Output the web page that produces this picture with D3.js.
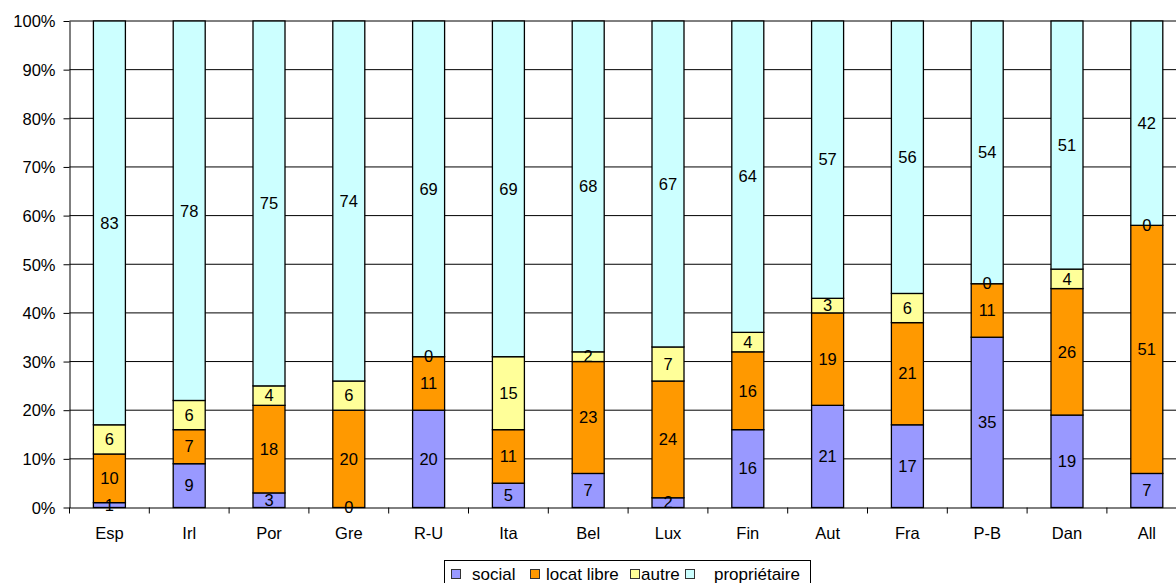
<!DOCTYPE html>
<html><head><meta charset="utf-8">
<script src="https://cdn.jsdelivr.net/npm/d3@7"></script>
<style>body{margin:0;background:#fff;} svg{display:block;font-family:"Liberation Sans",Arial,sans-serif;}</style>
</head><body>
<svg id="c" width="1176" height="583"></svg>
<script>
const categories = ["Esp","Irl","Por","Gre","R-U","Ita","Bel","Lux","Fin","Aut","Fra","P-B","Dan","All"];
const seriesNames = ["social","locat libre","autre","propriétaire"];
const social = [1,9,3,0,20,5,7,2,16,21,17,35,19,7];
const locatLibre = [10,7,18,20,11,11,23,24,16,19,21,11,26,51];
const autre = [6,6,4,6,0,15,2,7,4,3,6,0,4,0];
const proprietaire = [83,78,75,74,69,69,68,67,64,57,56,54,51,42];
const yTicks = [0,10,20,30,40,50,60,70,80,90,100];
const colors = ["#9999FF","#FF9900","#FFFF99","#CCFFFF"];

(function(){
const seriesValues = [social, locatLibre, autre, proprietaire];
const rows = categories.map((c,i)=>{const r={cat:c}; seriesNames.forEach((s,k)=>r[s]=seriesValues[k][i]); return r;});
const stack = d3.stack().keys(seriesNames).offset(d3.stackOffsetExpand)(rows);

const svg = d3.select("#c");
const pLeft = 69.5, pTop = 21, pBottom = 507.5, band = 79.8;
const fs = "16.5px";
const x = d3.scaleBand().domain(categories).range([pLeft, pLeft + band*categories.length]).paddingInner(0).paddingOuter(0);
const y = d3.scaleLinear().domain([0,1]).range([pBottom, pTop]);
const bw = 32;

svg.append("g").selectAll("line").data(yTicks.filter(t=>t>0)).join("line")
  .attr("x1", pLeft).attr("x2", 1176)
  .attr("y1", d=>y(d/100)).attr("y2", d=>y(d/100))
  .attr("stroke","#000").attr("stroke-width",1);

const g = svg.append("g");
stack.forEach((s,k)=>{
  g.append("g").selectAll("rect").data(s).join("rect")
    .attr("x", d=>x(d.data.cat)+band/2-bw/2)
    .attr("width", bw)
    .attr("y", d=>y(d[1]))
    .attr("height", d=>y(d[0])-y(d[1]))
    .attr("fill", colors[k]).attr("stroke","#000").attr("stroke-width",1.3);
});

const yAxis = d3.axisLeft(y).tickValues(yTicks.map(t=>t/100)).tickFormat(d=>Math.round(d*100)+"%").tickSize(6).tickSizeOuter(0);
const ya = svg.append("g").attr("transform",`translate(${pLeft},0)`).call(yAxis);
ya.select(".domain").attr("stroke","#000");
ya.selectAll("text").attr("font-size",fs).attr("fill","#000").attr("x",-14).attr("dy","0.35em");
ya.selectAll(".tick line").attr("stroke","#000");

const xAxis = d3.axisBottom(x).tickSize(0).tickSizeOuter(0);
const xa = svg.append("g").attr("transform",`translate(0,${pBottom})`).call(xAxis);
xa.select(".domain").attr("stroke","#000");
xa.selectAll("text").attr("font-size",fs).attr("fill","#000").attr("y",25.5).attr("dy","0.35em");
svg.append("g").selectAll("line").data(d3.range(categories.length+1)).join("line")
  .attr("x1", i=>pLeft+i*band).attr("x2", i=>pLeft+i*band)
  .attr("y1", pBottom).attr("y2", pBottom+6).attr("stroke","#000");

stack.forEach((s,k)=>{
  g.append("g").selectAll("text").data(s).join("text")
    .attr("x", d=>x(d.data.cat)+band/2)
    .attr("y", d=>(y(d[0])+y(d[1]))/2)
    .attr("dy","0.35em").attr("text-anchor","middle")
    .attr("font-size",fs).attr("fill","#000")
    .text(d=>d.data[seriesNames[k]]);
});

const lg = svg.append("g");
lg.append("rect").attr("x",444.5).attr("y",560.5).attr("width",366).attr("height",30).attr("fill","#fff").attr("stroke","#000");
const itemX = [[451,472],[530,546],[630,641],[685,714]];
seriesNames.forEach((s,k)=>{
  lg.append("rect").attr("x",itemX[k][0]+0.5).attr("y",569.5).attr("width",9).attr("height",9)
    .attr("fill",colors[k]).attr("stroke","#333");
  lg.append("text").attr("x",itemX[k][1]).attr("y",574).attr("dy","0.35em").attr("font-size","17px").attr("fill","#000").text(s);
});
})();
</script>
</body></html>
